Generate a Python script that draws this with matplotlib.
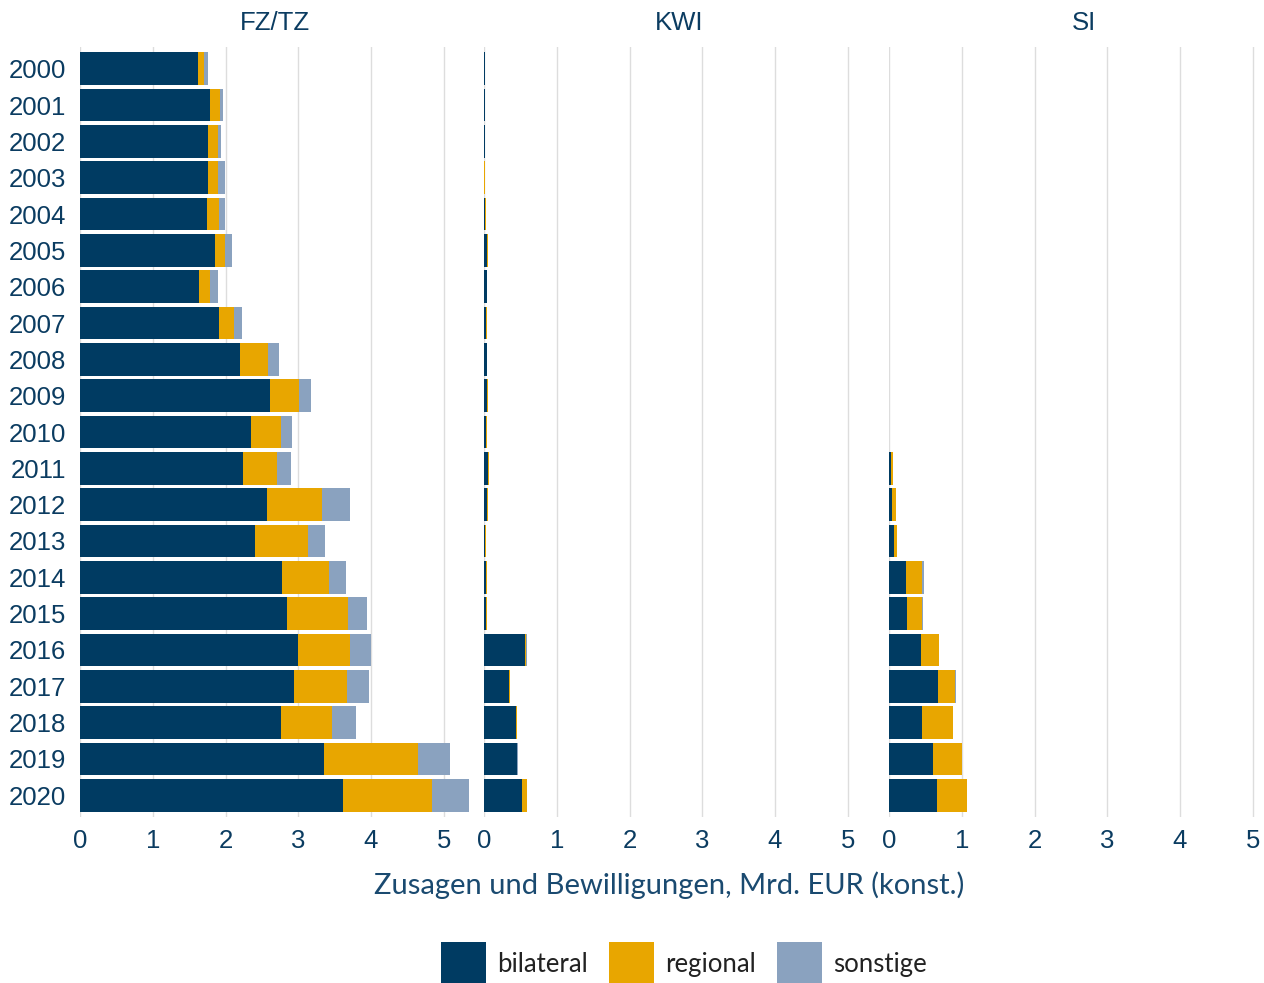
import numpy as np
import matplotlib
matplotlib.use('Agg')
from matplotlib import pyplot as plt
from matplotlib.patches import Patch

plt.rcParams['font.family'] = ['Liberation Sans', 'DejaVu Sans']

years = list(range(2000, 2021))
panels = ['FZ/TZ', 'KWI', 'SI']
series = ['bilateral', 'regional', 'sonstige']
colors = ['#003B62', '#E8A600', '#8AA2BF']

# FZ/TZ
fz_bilateral = [1.62, 1.78, 1.76, 1.76, 1.74, 1.86, 1.63, 1.91, 2.20, 2.61, 2.35,
                2.24, 2.57, 2.40, 2.77, 2.85, 3.00, 2.94, 2.76, 3.36, 3.62]
fz_regional = [0.08, 0.14, 0.13, 0.13, 0.17, 0.13, 0.15, 0.20, 0.38, 0.40, 0.41,
               0.47, 0.75, 0.74, 0.65, 0.84, 0.71, 0.73, 0.70, 1.28, 1.22]
fz_sonstige = [0.06, 0.05, 0.05, 0.10, 0.08, 0.10, 0.11, 0.12, 0.15, 0.17, 0.15,
               0.19, 0.39, 0.23, 0.24, 0.25, 0.29, 0.30, 0.34, 0.45, 0.51]

# KWI
kwi_bilateral = [0.01, 0.01, 0.015, 0.0, 0.015, 0.04, 0.035, 0.03, 0.035, 0.045, 0.03,
                 0.06, 0.045, 0.01, 0.03, 0.03, 0.566, 0.347, 0.443, 0.457, 0.525]
kwi_regional = [0.0, 0.0, 0.0, 0.01, 0.015, 0.015, 0.01, 0.01, 0.01, 0.015, 0.01,
                0.01, 0.015, 0.015, 0.01, 0.01, 0.014, 0.014, 0.014, 0.0, 0.068]
kwi_sonstige = [0.0, 0.0, 0.0, 0.0, 0.0, 0.0, 0.0, 0.0, 0.0, 0.0, 0.0,
                0.0, 0.0, 0.0, 0.0, 0.0, 0.014, 0.0, 0.0, 0.014, 0.0]

# SI (ab 2011)
si_bilateral = [np.nan] * 11 + [0.027, 0.04, 0.068, 0.232, 0.245, 0.436, 0.668, 0.45, 0.60, 0.655]
si_regional = [np.nan] * 11 + [0.027, 0.055, 0.04, 0.218, 0.209, 0.245, 0.245, 0.436, 0.409, 0.423]
si_sonstige = [np.nan] * 11 + [0.0, 0.0, 0.0, 0.027, 0.01, 0.0, 0.014, 0.0, 0.0, 0.0]

data = {
    'FZ/TZ': [fz_bilateral, fz_regional, fz_sonstige],
    'KWI': [kwi_bilateral, kwi_regional, kwi_sonstige],
    'SI': [si_bilateral, si_regional, si_sonstige],
}

W, H = 1264, 983
fig = plt.figure(figsize=(W / 100, H / 100), dpi=100)
txt_col = '#0B3C61'
lab_font = 'Lato'

y = np.arange(len(years))
pan_left = [80, 484, 889]
pan_w = 390
pan_top, pan_bot = 47, 817

for i, name in enumerate(panels):
    ax = fig.add_axes([pan_left[i] / W, (H - pan_bot) / H, pan_w / W, (pan_bot - pan_top) / H])
    left = np.zeros(len(years))
    for vals, c in zip(data[name], colors):
        v = np.nan_to_num(np.array(vals, dtype=float))
        ax.barh(y, v, left=left, height=0.9, color=c, linewidth=0, zorder=2)
        left += v
    ax.set_xlim(0, 5.36)
    ax.set_ylim(len(years) - 0.4, -0.6)
    ax.set_xticks([0, 1, 2, 3, 4, 5])
    ax.grid(axis='x', color='#DDDDDD', linewidth=1.0, zorder=0)
    ax.set_axisbelow(True)
    for s in ax.spines.values():
        s.set_visible(False)
    ax.tick_params(length=0, labelsize=18.5, labelcolor=txt_col, pad=9)
    if i == 0:
        ax.set_yticks(y)
        ax.set_yticklabels([str(yr) for yr in years])
        ax.tick_params(axis='y', pad=10)
    else:
        ax.set_yticks([])
    fig.text((pan_left[i] + pan_w / 2) / W, (H - 23) / H, name, ha='center', va='center',
             fontsize=18.5, color=txt_col)

fig.text(669 / W, (H - 885) / H, 'Zusagen und Bewilligungen, Mrd. EUR (konst.)',
         ha='center', va='center', fontsize=21, color='#1A4A70', fontfamily=lab_font)

handles = [Patch(facecolor=c, edgecolor='none', label=s) for s, c in zip(series, colors)]
leg = fig.legend(handles=handles, loc='center', bbox_to_anchor=(684 / W, 19 / H), ncol=3,
                 frameon=False, handlelength=1.75, handleheight=2.2, handletextpad=0.45,
                 columnspacing=0.8, prop={'family': lab_font, 'size': 18.5})
for t in leg.get_texts():
    t.set_color('#222222')

fig.savefig('out.png', dpi=100)
